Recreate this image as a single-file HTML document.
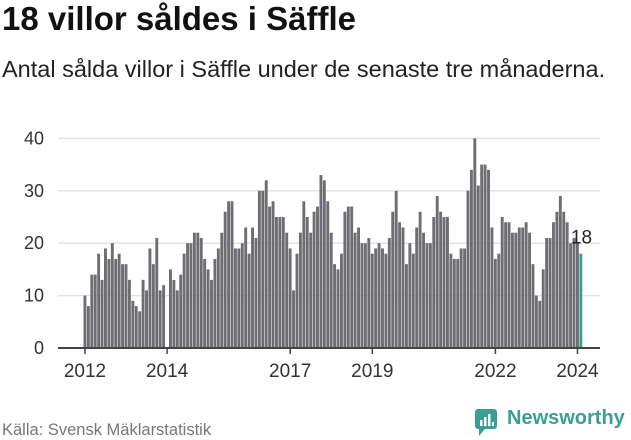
<!DOCTYPE html>
<html><head><meta charset="utf-8"><style>
body{margin:0;width:631px;height:439px;background:#fff;font-family:"Liberation Sans",sans-serif;overflow:hidden;position:relative}
.t{position:absolute;left:2px;top:0px;font-size:33px;font-weight:bold;color:#111;white-space:nowrap}
.s{position:absolute;left:2px;top:56px;font-size:23.5px;color:#222;white-space:nowrap}
.f{position:absolute;left:2px;top:421px;font-size:16.5px;color:#777;white-space:nowrap}
.logo{position:absolute;left:507px;top:407px;font-size:20px;font-weight:bold;color:#3a9e92}
</style></head><body>
<div class="t">18 villor såldes i Säffle</div>
<div class="s">Antal sålda villor i Säffle under de senaste tre månaderna.</div>
<svg id="c" width="631" height="439" style="position:absolute;left:0;top:0"></svg>
<div class="f">Källa: Svensk Mäklarstatistik</div>
<svg style="position:absolute;left:475px;top:409px" width="24" height="28"><rect x="0" y="0" width="22" height="20" rx="3" fill="#3a9e92"/><polygon points="4,20 10,20 4,27" fill="#3a9e92"/><rect x="5" y="11" width="2.5" height="6" fill="#fff"/><rect x="9" y="8" width="2.5" height="9" fill="#fff"/><rect x="13" y="5" width="2.5" height="12" fill="#fff"/><rect x="17" y="13" width="2" height="4" fill="#fff"/></svg>
<div class="logo">Newsworthy</div>
<script>
const values=[10,8,14,14,18,13,19,17,20,17,18,16,16,13,9,8,7,13,11,19,16,21,11,12,null,15,13,11,14,18,20,20,22,22,21,17,15,13,17,19,22,26,28,28,19,19,20,23,18,23,21,30,30,32,27,28,25,25,25,22,19,11,18,22,28,25,22,26,27,33,32,28,22,16,15,18,26,27,27,22,23,20,20,21,18,19,20,19,18,21,26,30,24,23,16,20,18,23,26,22,20,20,25,29,26,25,25,18,17,17,19,19,30,34,40,31,35,35,34,23,17,18,25,24,24,22,22,23,23,24,22,16,10,9,15,21,21,24,26,29,26,24,20,21,20,18];
const yTicks=[0,10,20,30,40];
const xTicks=[2012,2014,2017,2019,2022,2024];
const startYear=2012;
const NS="http://www.w3.org/2000/svg";
const svg=document.getElementById('c');
const x0=58,x1=600,y0=348,pxPerUnit=5.24;
const monthW=3.42, firstX=85;
const yS=v=>y0-v*pxPerUnit;
const xS=i=>firstX+i*monthW;
const xYear=yr=>firstX+(yr-startYear)*12*monthW;
function el(t,a){const e=document.createElementNS(NS,t);for(const k in a)e.setAttribute(k,a[k]);svg.appendChild(e);return e;}
yTicks.forEach(v=>{
 if(v>0){const g=el('line',{x1:x0,x2:x1,y1:yS(v),y2:yS(v),stroke:'#e3e3e3','stroke-width':1.5});
 
 }
 const t=el('text',{x:44,y:yS(v)+6,'text-anchor':'end','font-size':18,fill:'#333','font-family':'Liberation Sans, sans-serif'});
 t.textContent=v;
 
 
});
values.forEach((v,i)=>{
 if(v==null)return;
 const last=i===values.length-1;
 const r=el('rect',{x:xS(i)-1.5,y:yS(v),width:2.9,height:v*pxPerUnit,fill:last?'#3a9e92':'#6e6d72'});
 
 
});
const ax=el('line',{x1:x0,x2:x1,y1:y0,y2:y0,stroke:'#444','stroke-width':2});


xTicks.forEach(yr=>{
 const x=xYear(yr);
 const tk=el('line',{x1:x,x2:x,y1:y0,y2:y0+6,stroke:'#444','stroke-width':1.5});
 
 
 const t=el('text',{x:x,y:y0+29,'text-anchor':'middle','font-size':19,fill:'#333','font-family':'Liberation Sans, sans-serif'});
 t.textContent=yr;
 
 
});
const li=values.length-1;
const lb=el('text',{x:xS(li)-10,y:yS(values[li])-10,'font-size':19,fill:'#222','font-family':'Liberation Sans, sans-serif'});
lb.textContent=values[li];


</script>
</body></html>
